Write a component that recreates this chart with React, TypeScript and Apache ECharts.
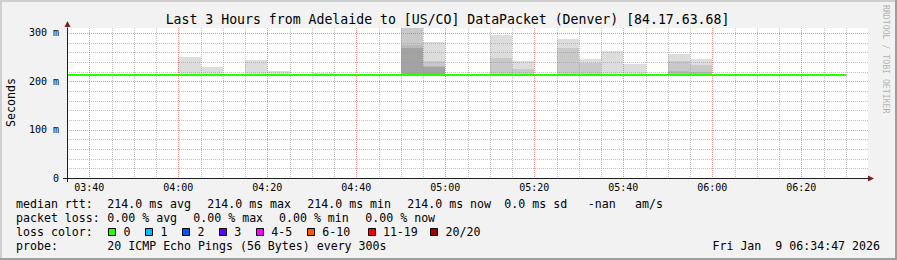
import React, { useEffect, useRef } from "react";
import * as echarts from "echarts";

// ---------- data ----------
const chartTitle = "Last 3 Hours from Adelaide to [US/CO] DataPacket (Denver) [84.17.63.68]";
const axisStartTime = "03:35";
const axisEndTime = "06:35";
const stepMinutes = 5;
const xTickLabels = ["03:40", "04:00", "04:20", "04:40", "05:00", "05:20", "05:40", "06:00", "06:20"];
const yTickValues = [0, 100, 200, 300];
const yTickTexts = ["0", "100 m", "200 m", "300 m"];
const yMinorStep = 20;
const yAxisMax = 310;
const yAxisTitle = "Seconds";

// median rtt (ms) for each 5-minute step from 03:35 to 06:30
const medianRtt = [
  214, 214, 214, 214, 214, 214, 214, 214, 214, 214, 214, 214,
  214, 214, 214, 214, 214, 214, 214, 214, 214, 214, 214, 214,
  214, 214, 214, 214, 214, 214, 214, 214, 214, 214, 214,
];

// smoke (ping spread) per 5-minute step
const smokeBase = 214;
const smokeStart = ["04:00", "04:05", "04:15", "04:20", "04:30", "04:50", "04:55", "05:10", "05:15", "05:25", "05:30", "05:35", "05:40", "05:50", "05:55"];
const smokeMax = [250, 229, 244, 221, 217.5, 340, 282, 296, 242, 287, 245, 262.5, 236, 256, 246.5];
const smokeUpper = [null, null, null, null, null, 318, 241, 247, 225, 269, 238, null, null, 242, 233.5];
const smokeInner = [null, null, null, null, null, 275, 232, null, null, null, null, null, null, 221, 220];
const smokeCore = [null, null, null, null, null, 269, 230, null, null, null, null, null, null, null, null];
const smokeColors = ["#dddddd", "#c9c9c9", "#b9b9b9", "#a3a3a3"];

// legend texts
const rttLegend = ["median rtt:", "214.0 ms avg", "214.0 ms max", "214.0 ms min", "214.0 ms now", "0.0 ms sd", "-nan", "am/s"];
const lossLegend = ["packet loss:", "0.00 % avg", "0.00 % max", "0.00 % min", "0.00 % now"];
const lossColorTitle = "loss color:";
const lossLabels = ["0", "1", "2", "3", "4-5", "6-10", "11-19", "20/20"];
const lossColors = ["#26ff00", "#00b8ff", "#0059ff", "#5e00ff", "#ff00ff", "#ff5500", "#ff0000", "#a10000"];
const probeLegend = ["probe:", "20 ICMP Echo Pings (56 Bytes) every 300s"];
const timestamp = "Fri Jan  9 06:34:47 2026";
const watermark = "RRDTOOL / TOBI OETIKER";

// ---------- layout ----------
const W = 897;
const H = 260;
const MONO = "'DejaVu Sans Mono', 'Liberation Mono', monospace";
const rttLegendX = [16, 107.3, 207.3, 307.3, 407.3, 504.3, 587.7, 635];
const lossLegendX = [16, 107.3, 193.3, 279, 365.3];
const lossBoxX = [108.3, 145.3, 182.3, 219, 256, 307, 367.7, 430.3];
const GRID_MINOR = "rgba(150,150,150,0.6)";
const GRID_MAJOR = "rgba(222,79,79,0.6)";

const toMinutes = (s: string) => {
  const [h, m] = s.split(":").map(Number);
  return h * 60 + m;
};
const startMin = toMinutes(axisStartTime);
const rel = (s: string) => toMinutes(s) - startMin;
const fmtTime = (v: number) => {
  const t = startMin + v;
  const h = Math.floor(t / 60);
  const m = t % 60;
  return String(h).padStart(2, "0") + ":" + String(m).padStart(2, "0");
};

export default function App() {
  const ref = useRef<HTMLDivElement>(null);
  useEffect(() => {
    if (!ref.current) return;
    const chart = echarts.init(ref.current, undefined, { renderer: "svg" });
    const xMax = rel(axisEndTime);

    const smokeData: any[] = [];
    [smokeMax, smokeUpper, smokeInner, smokeCore].forEach((layer, li) => {
      layer.forEach((v, i) => {
        if (v == null) return;
        const s = rel(smokeStart[i]);
        smokeData.push([s, s + stepMinutes, smokeBase, v, li]);
      });
    });

    const medianData = medianRtt.map((v, i) => [i * stepMinutes, (i + 1) * stepMinutes, v]);

    // grid lines: [orientation 0=vertical/1=horizontal, value, major]
    const majorX = xTickLabels.map(rel);
    const gridData: any[] = [];
    for (let v = stepMinutes; v < xMax; v += stepMinutes) {
      if (!majorX.includes(v)) gridData.push([0, v, 0]);
    }
    for (let v = yMinorStep; v < yAxisMax; v += yMinorStep) {
      if (!yTickValues.includes(v)) gridData.push([1, v, 0]);
    }
    majorX.forEach((v) => gridData.push([0, v, 1]));
    yTickValues.filter((v) => v > 0).forEach((v) => gridData.push([1, v, 1]));

    const texts: any[] = [];
    const addText = (text: string, x: number, y: number, extra: any = {}) =>
      texts.push({
        type: "text",
        x,
        y,
        silent: true,
        style: {
          text,
          fontFamily: MONO,
          fontSize: 11.6,
          fill: "#000",
          textVerticalAlign: "middle",
          ...extra,
        },
      });
    rttLegend.forEach((t, i) => addText(t, rttLegendX[i], 204.3));
    lossLegend.forEach((t, i) => addText(t, lossLegendX[i], 218.3));
    addText(lossColorTitle, 16, 232.3);
    lossLabels.forEach((t, i) => addText(t, lossBoxX[i] + 15.2, 232.3));
    addText(probeLegend[0], 16, 246.2);
    addText(probeLegend[1], 107.3, 246.2);
    addText(timestamp, 880, 246.2, { textAlign: "right" });

    const boxes = lossColors.map((c, i) => ({
      type: "rect",
      silent: true,
      shape: { x: Math.round(lossBoxX[i]) + 0.5, y: 228.5, width: 7, height: 7 },
      style: { fill: c, stroke: "#000", lineWidth: 1 },
    }));

    const option: any = {
      animation: false,
      backgroundColor: "#f2f2f2",
      grid: {
        left: 67,
        right: 29,
        top: 28,
        bottom: 82,
        show: true,
        backgroundColor: "#ffffff",
        borderWidth: 0,
      },
      xAxis: {
        type: "value",
        min: 0,
        max: xMax,
        interval: stepMinutes,
        z: 5,
        axisLine: { show: true, lineStyle: { color: "#1f1f1f", width: 1 } },
        axisTick: { show: false },
        splitLine: { show: false },
        axisLabel: {
          margin: 4,
          fontFamily: MONO,
          fontSize: 10,
          color: "#000",
          formatter: (v: number) => {
            const s = fmtTime(v);
            return xTickLabels.includes(s) ? s : "";
          },
        },
      },
      yAxis: {
        type: "value",
        min: 0,
        max: yAxisMax,
        interval: 100,
        z: 5,
        axisLine: { show: true, lineStyle: { color: "#1f1f1f", width: 1 } },
        axisTick: { show: false },
        splitLine: { show: false },
        axisLabel: {
          margin: 8,
          fontFamily: MONO,
          fontSize: 10,
          color: "#000",
          formatter: (v: number) => {
            const i = yTickValues.indexOf(v);
            return i >= 0 ? yTickTexts[i] : "";
          },
        },
      },
      series: [
        {
          type: "custom",
          z: 2,
          silent: true,
          data: smokeData,
          renderItem: (params: any, api: any) => {
            const p0 = api.coord([api.value(0), api.value(3)]);
            const p1 = api.coord([api.value(1), api.value(2)]);
            const x0 = Math.round(p0[0]);
            const x1 = Math.round(p1[0]);
            const y0 = Math.round(p0[1]);
            const y1 = Math.round(p1[1]);
            const shape = echarts.graphic.clipRectByRect(
              { x: x0, y: y0, width: x1 - x0, height: y1 - y0 },
              {
                x: params.coordSys.x,
                y: params.coordSys.y,
                width: params.coordSys.width,
                height: params.coordSys.height,
              }
            );
            if (!shape) return null;
            return {
              type: "rect",
              shape,
              style: { fill: smokeColors[api.value(4)] },
            };
          },
        },
        {
          type: "custom",
          z: 3,
          silent: true,
          data: gridData,
          renderItem: (params: any, api: any) => {
            const cs = params.coordSys;
            const vertical = api.value(0) === 0;
            const v = api.value(1);
            const color = api.value(2) ? GRID_MAJOR : GRID_MINOR;
            let shape;
            if (vertical) {
              const x = Math.round(api.coord([v, 0])[0]) + 0.5;
              shape = { x1: x, y1: cs.y, x2: x, y2: cs.y + cs.height };
            } else {
              const y = Math.round(api.coord([0, v])[1]) + 0.5;
              shape = { x1: cs.x, y1: y, x2: cs.x + cs.width, y2: y };
            }
            return {
              type: "line",
              shape,
              style: { stroke: color, lineWidth: 1, lineDash: [1, 1] },
            };
          },
        },
        {
          type: "custom",
          z: 4,
          silent: true,
          data: medianData,
          renderItem: (params: any, api: any) => {
            const p0 = api.coord([api.value(0), api.value(2)]);
            const p1 = api.coord([api.value(1), api.value(2)]);
            const x0 = Math.round(p0[0]);
            const x1 = Math.round(p1[0]);
            return {
              type: "rect",
              shape: { x: x0, y: Math.floor(p0[1]), width: x1 - x0, height: 2 },
              style: { fill: lossColors[0] },
            };
          },
        },
      ],
      graphic: [
        // frame
        { type: "rect", silent: true, shape: { x: 0, y: 0, width: W, height: 2 }, style: { fill: "#cfcfcf" } },
        { type: "rect", silent: true, shape: { x: 0, y: 0, width: 2, height: H }, style: { fill: "#cfcfcf" } },
        { type: "rect", silent: true, shape: { x: 0, y: H - 2, width: W, height: 2 }, style: { fill: "#9e9e9e" } },
        { type: "rect", silent: true, shape: { x: W - 2, y: 0, width: 2, height: H }, style: { fill: "#9e9e9e" } },
        // axis extensions
        { type: "line", silent: true, shape: { x1: 63, y1: 178.5, x2: 67, y2: 178.5 }, style: { stroke: "#1f1f1f", lineWidth: 1 } },
        { type: "line", silent: true, shape: { x1: 67.5, y1: 178, x2: 67.5, y2: 182 }, style: { stroke: "#1f1f1f", lineWidth: 1 } },
        // arrows
        { type: "polygon", silent: true, shape: { points: [[64.5, 27], [70.5, 27], [67.5, 21]] }, style: { fill: "#801f1f" } },
        { type: "polygon", silent: true, shape: { points: [[868, 175.5], [868, 181.5], [874, 178.5]] }, style: { fill: "#801f1f" } },
        // title
        {
          type: "text",
          silent: true,
          x: 447.5,
          y: 19,
          style: { text: chartTitle, fontFamily: MONO, fontSize: 13.2, fill: "#000", textAlign: "center", textVerticalAlign: "middle" },
        },
        // y title
        {
          type: "text",
          silent: true,
          x: 10.5,
          y: 102.5,
          rotation: Math.PI / 2,
          style: { text: yAxisTitle, fontFamily: MONO, fontSize: 11.6, fill: "#000", textAlign: "center", textVerticalAlign: "middle" },
        },
        // watermark
        {
          type: "text",
          silent: true,
          x: 886,
          y: 5,
          rotation: -Math.PI / 2,
          style: { text: watermark, fontFamily: MONO, fontSize: 8.2, fill: "rgba(0,0,0,0.3)", textAlign: "left", textVerticalAlign: "middle" },
        },
        ...boxes,
        ...texts,
      ],
    };
    chart.setOption(option);
    return () => chart.dispose();
  }, []);
  return (
    <div style={{ position: "absolute", left: 0, top: 0, width: W, height: H }}>
      <div ref={ref} style={{ width: W, height: H }} />
    </div>
  );
}
